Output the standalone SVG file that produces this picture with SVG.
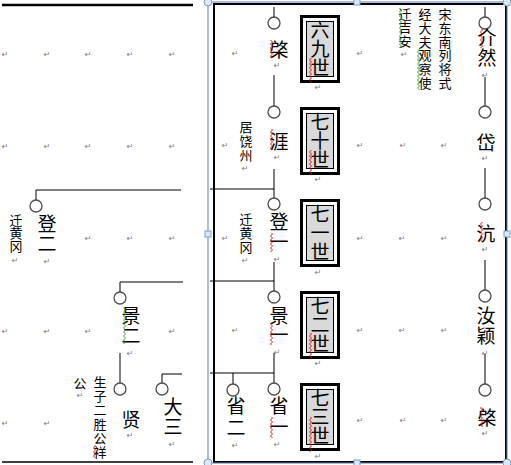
<svg xmlns="http://www.w3.org/2000/svg" width="511" height="465" viewBox="0 0 511 465">
<style>
.ln{stroke:#000;stroke-width:1;fill:none}
.cir{fill:#fff;stroke:#4d4d4d;stroke-width:1.3}
.big{font-family:"Noto Sans CJK SC","Noto Sans CJK JP",sans-serif;font-size:19px;fill:#000}
.sm{font-family:"Noto Sans CJK SC","Noto Sans CJK JP",sans-serif;font-size:13px;fill:#000}
.v{writing-mode:vertical-rl;text-orientation:upright;text-anchor:start}
.c{text-anchor:middle;dominant-baseline:central}
.pm{font-family:"DejaVu Sans",sans-serif;font-size:8px;fill:#7a7a7a;text-anchor:middle;dominant-baseline:central}
.bo{fill:none;stroke:#000;stroke-width:3}
.bi{fill:#d9d9d9;stroke:#000;stroke-width:1}
.hd{fill:#dde8f5;stroke:#7c9cc6;stroke-width:1}
</style>
<defs>
<pattern id="zr" width="3" height="4" patternUnits="userSpaceOnUse"><polyline points="0.5,0 2.5,2 0.5,4" fill="none" stroke="#e00000" stroke-width="0.9"/></pattern>
<pattern id="zg" width="3" height="4" patternUnits="userSpaceOnUse"><polyline points="0.5,0 2.5,2 0.5,4" fill="none" stroke="#1f9a3a" stroke-width="0.9"/></pattern>
</defs>
<rect width="511" height="465" fill="#fff"/>

<line x1="2" y1="5" x2="193" y2="5" stroke="#000" stroke-width="2.5"/>
<line x1="2" y1="462" x2="193" y2="462" stroke="#000" stroke-width="1.5"/>

<g id="frame">
<rect x="214" y="4" width="292" height="458" fill="none" stroke="#000" stroke-width="2"/>
<rect x="208" y="2" width="299" height="461" fill="none" stroke="#5a7db4" stroke-width="1"/>
<circle class="hd" cx="208" cy="2" r="4"/>
<circle class="hd" cx="507" cy="2" r="4"/>
<circle class="hd" cx="208" cy="463" r="4"/>
<circle class="hd" cx="507" cy="463" r="4"/>
<rect class="hd" x="354" y="-1" width="6" height="6"/>
<rect class="hd" x="354" y="460" width="6" height="6"/>
<rect class="hd" x="205" y="231" width="6" height="6"/>
<rect class="hd" x="504" y="231" width="6" height="6"/>
</g>

<g id="connectors">
<path class="ln" d="M181 190H36V200"/>
<path class="ln" d="M183 282H120V292"/>
<path class="ln" d="M120 353V383"/>
<path class="ln" d="M182 374H162V383"/>
<path class="ln" d="M274 7V17"/>
<path class="ln" d="M274 75V106"/>
<path class="ln" d="M274 169V198"/>
<path class="ln" d="M210 189H274"/>
<path class="ln" d="M274 262V291"/>
<path class="ln" d="M210 281H274"/>
<path class="ln" d="M274 353V383"/>
<path class="ln" d="M210 373H274"/>
<path class="ln" d="M233 373V384"/>
<path class="ln" d="M485 7V17"/>
<path class="ln" d="M485 77V106"/>
<path class="ln" d="M485 168V198"/>
<path class="ln" d="M485 260V290"/>
<path class="ln" d="M485 354V384"/>
</g>

<g id="n-deng2">
<circle class="cir" cx="36" cy="206" r="6"/>
<text class="big v" x="47" y="214.5" letter-spacing="1">登二</text>
</g>
<g id="note-qianhg-l">
<text class="sm v" x="16" y="213.5">迁黄冈</text>
</g>
<g id="n-jing2">
<circle class="cir" cx="120" cy="298" r="6"/>
<text class="big v" x="131" y="306.5" letter-spacing="1">景二</text>
</g>
<g id="n-xian">
<circle class="cir" cx="120" cy="389" r="6"/>
<text class="big c" x="131" y="418">贤</text>
</g>
<g id="note-gong">
<text class="sm c" x="80" y="382">公</text>
</g>
<g id="note-shengzi">
<text class="sm v" x="100" y="375.5" letter-spacing="1">生子二胜公祥</text>
</g>
<g id="n-da3">
<circle class="cir" cx="162" cy="389" r="6"/>
<text class="big v" x="173" y="397.5" letter-spacing="1">大三</text>
</g>

<g id="n-qi1">
<circle class="cir" cx="274" cy="23" r="6"/>
<text class="big c" x="279" y="48">棨</text>
</g>
<g id="n-ya">
<circle class="cir" cx="274" cy="112" r="6"/>
<text class="big c" x="279" y="140">涯</text>
</g>
<g id="note-juraozhou">
<text class="sm v" x="246" y="120.5" letter-spacing="1">居饶州</text>
</g>
<g id="n-deng1">
<circle class="cir" cx="274" cy="204" r="6"/>
<text class="big v" x="279" y="212.5" letter-spacing="1">登一</text>
</g>
<g id="note-qianhg-r">
<text class="sm v" x="246" y="212.5" letter-spacing="1">迁黄冈</text>
</g>
<g id="n-jing1">
<circle class="cir" cx="274" cy="297" r="6"/>
<text class="big v" x="279" y="306.5">景一</text>
</g>
<g id="n-sheng1">
<circle class="cir" cx="274" cy="389" r="6"/>
<text class="big v" x="279" y="396.5" letter-spacing="2">省一</text>
</g>
<g id="n-sheng2">
<circle class="cir" cx="233" cy="390" r="6"/>
<text class="big v" x="236" y="396.5" letter-spacing="3">省二</text>
</g>

<g id="gen69">
<rect class="bo" x="301.5" y="16.5" width="37" height="65"/>
<rect class="bi" x="306.5" y="21.5" width="27" height="55"/>
<text class="big v" x="320" y="20.5">六九世</text>
</g>
<g id="gen70">
<rect class="bo" x="301.5" y="108.5" width="37" height="65"/>
<rect class="bi" x="306.5" y="113.5" width="27" height="55"/>
<text class="big v" x="320" y="112.5">七十世</text>
</g>
<g id="gen71">
<rect class="bo" x="301.5" y="200.5" width="37" height="65"/>
<rect class="bi" x="306.5" y="205.5" width="27" height="55"/>
<text class="big v" x="320" y="204.5">七一世</text>
</g>
<g id="gen72">
<rect class="bo" x="301.5" y="292.5" width="37" height="65"/>
<rect class="bi" x="306.5" y="297.5" width="27" height="55"/>
<text class="big v" x="320" y="296.5">七二世</text>
</g>
<g id="gen73">
<rect class="bo" x="301.5" y="384.5" width="37" height="65"/>
<rect class="bi" x="306.5" y="389.5" width="27" height="55"/>
<text class="big v" x="320" y="388.5">七三世</text>
</g>

<g id="note-qianjian">
<text class="sm v" x="405" y="7.5" letter-spacing="0.5">迁吉安</text>
</g>
<g id="note-jingdafu">
<text class="sm v" x="425" y="7.5" letter-spacing="0.8">经大夫观察使</text>
</g>
<g id="note-songdongnan">
<text class="sm v" x="445" y="7.5" letter-spacing="0.8">宋东南列将式</text>
</g>

<g id="n-jieran">
<circle class="cir" cx="485" cy="23" r="6"/>
<text class="big v" x="487" y="28.5" letter-spacing="1">介然</text>
</g>
<g id="n-dai">
<circle class="cir" cx="485" cy="112" r="6"/>
<text class="big c" x="486" y="141">岱</text>
</g>
<g id="n-hang">
<circle class="cir" cx="485" cy="204" r="6"/>
<text class="big c" x="486" y="232">沆</text>
</g>
<g id="n-ruying">
<circle class="cir" cx="485" cy="296" r="6"/>
<text class="big v" x="486" y="306.5" letter-spacing="1">汝颖</text>
</g>
<g id="n-qi2">
<circle class="cir" cx="485" cy="390" r="6"/>
<text class="big c" x="487" y="416">棨</text>
</g>

<g id="squiggles">
<rect x="270" y="40" width="3" height="18" fill="url(#zr)"/>
<rect x="309" y="58" width="3" height="25" fill="url(#zr)"/>
<rect x="480" y="29" width="3" height="19" fill="url(#zr)"/>
<rect x="270" y="129" width="3" height="21" fill="url(#zr)"/>
<rect x="309" y="150" width="3" height="25" fill="url(#zr)"/>
<rect x="270" y="233" width="3" height="19" fill="url(#zr)"/>
<rect x="480" y="222" width="3" height="20" fill="url(#zr)"/>
<rect x="270" y="323" width="3" height="22" fill="url(#zr)"/>
<rect x="309" y="333" width="3" height="25" fill="url(#zr)"/>
<rect x="270" y="417" width="3" height="21" fill="url(#zr)"/>
<rect x="309" y="417" width="3" height="35" fill="url(#zr)"/>
<rect x="480" y="407" width="3" height="20" fill="url(#zr)"/>
<rect x="93" y="445" width="3" height="13" fill="url(#zr)"/>
<rect x="123" y="307" width="3" height="37" fill="url(#zg)"/>
<rect x="399" y="8" width="3" height="40" fill="url(#zg)"/>
<rect x="417" y="49" width="3" height="41" fill="url(#zg)"/>
</g>

<g id="marks" class="pm">
<text x="5" y="54">↵</text><text x="47" y="54">↵</text><text x="88" y="54">↵</text><text x="130" y="54">↵</text><text x="172" y="54">↵</text>
<text x="5" y="146">↵</text><text x="47" y="146">↵</text><text x="88" y="146">↵</text><text x="130" y="146">↵</text><text x="172" y="146">↵</text>
<text x="15" y="260">↵</text><text x="47" y="261">↵</text><text x="88" y="238">↵</text><text x="130" y="238">↵</text><text x="172" y="238">↵</text>
<text x="5" y="331">↵</text><text x="47" y="331">↵</text><text x="88" y="331">↵</text><text x="130" y="353">↵</text><text x="172" y="331">↵</text>
<text x="5" y="423">↵</text><text x="47" y="423">↵</text><text x="80" y="395">↵</text><text x="130" y="435">↵</text><text x="172" y="444">↵</text>
<text x="235" y="53">↵</text><text x="277" y="65">↵</text><text x="318" y="87">↵</text><text x="360" y="53">↵</text><text x="404" y="54">↵</text><text x="485" y="75">↵</text>
<text x="225" y="145">↵</text><text x="245" y="168">↵</text><text x="277" y="157">↵</text><text x="318" y="179">↵</text><text x="360" y="145">↵</text><text x="403" y="145">↵</text><text x="444" y="145">↵</text><text x="485" y="158">↵</text>
<text x="225" y="238">↵</text><text x="245" y="260">↵</text><text x="277" y="259">↵</text><text x="318" y="272">↵</text><text x="360" y="238">↵</text><text x="402" y="238">↵</text><text x="444" y="238">↵</text><text x="485" y="249">↵</text>
<text x="235" y="330">↵</text><text x="277" y="352">↵</text><text x="318" y="363">↵</text><text x="360" y="330">↵</text><text x="402" y="330">↵</text><text x="444" y="330">↵</text><text x="485" y="353">↵</text>
<text x="235" y="445">↵</text><text x="277" y="444">↵</text><text x="318" y="456">↵</text><text x="360" y="420">↵</text><text x="403" y="420">↵</text><text x="444" y="420">↵</text><text x="485" y="433">↵</text>
</g>
</svg>
